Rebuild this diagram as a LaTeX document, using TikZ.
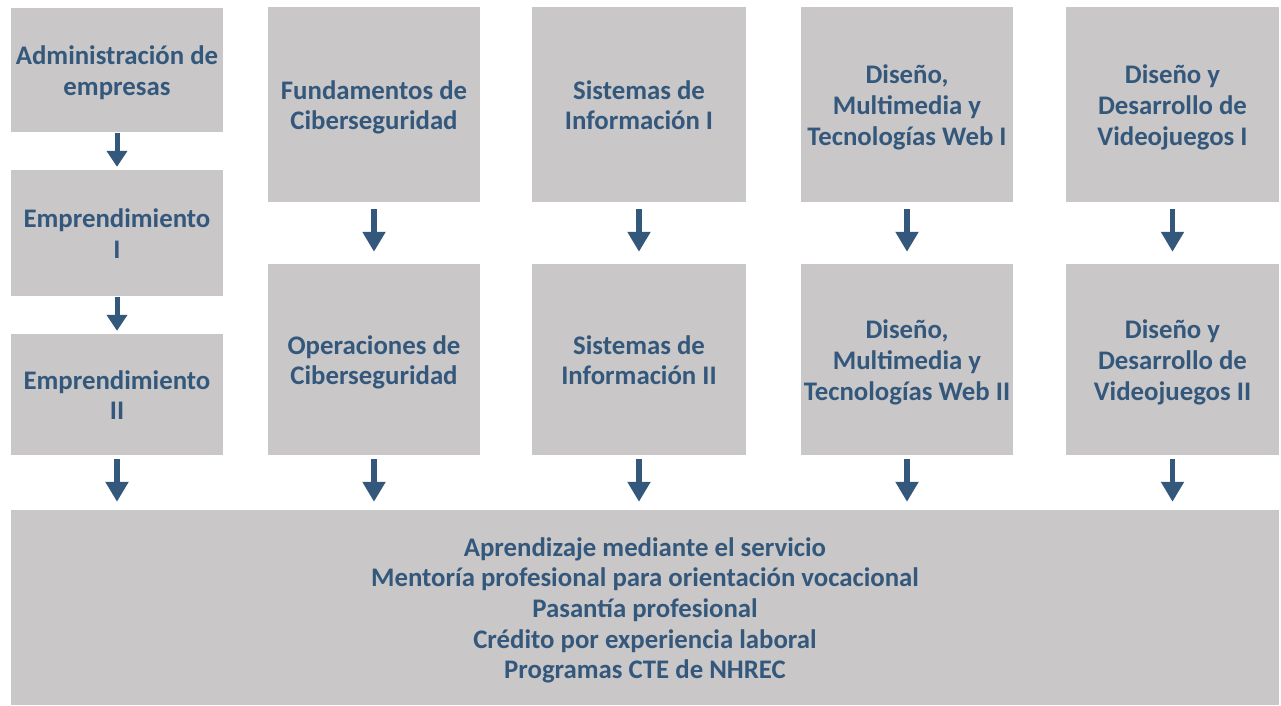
\documentclass[tikz,border=0pt]{standalone}
\usepackage{fontspec}
\setmainfont{Carlito}
\usetikzlibrary{arrows.meta,calc}
\definecolor{boxgray}{HTML}{C9C7C8}
\definecolor{navy}{HTML}{34587C}
\newcommand\tstrut{\rule{0pt}{29pt}}
\tikzset{
  box/.style={rectangle, fill=boxgray, inner sep=0pt, align=center, text=navy,
    font=\fontsize{26.8}{30.6}\selectfont\bfseries},
  arrsmall/.style={draw=navy, line width=5pt, -{Triangle[width=20pt,length=16pt]}},
  arrbig/.style={draw=navy, line width=5.5pt, -{Triangle[width=22pt,length=20pt]}}
}
\begin{document}
\begin{tikzpicture}[x=1pt,y=-1pt]
\useasboundingbox (0,0) rectangle (1281,706);
% column 1
\node[box, minimum width=212pt, minimum height=124pt] (a1) at (117,70) {\tstrut Administración de\\empresas\strut};
\node[box, minimum width=212pt, minimum height=126pt] (a2) at (117,233) {\tstrut Emprendimiento\\I\strut};
\node[box, minimum width=212pt, minimum height=121pt] (a3) at (117,394.5) {\tstrut Emprendimiento\\II\strut};
% top row
\node[box, minimum width=212pt, minimum height=195pt] (b1) at (374,104.5) {\tstrut Fundamentos de\\Ciberseguridad\strut};
\node[box, minimum width=214pt, minimum height=195pt] (c1) at (639,104.5) {\tstrut Sistemas de\\Información I\strut};
\node[box, minimum width=212pt, minimum height=195pt] (d1) at (907,104.5) {\tstrut Diseño,\\Multimedia y\\Tecnologías Web I\strut};
\node[box, minimum width=213pt, minimum height=195pt] (e1) at (1172.5,104.5) {\tstrut Diseño y\\Desarrollo de\\Videojuegos I\strut};
% second row
\node[box, minimum width=212pt, minimum height=191pt] (b2) at (374,359.5) {\tstrut Operaciones de\\Ciberseguridad\strut};
\node[box, minimum width=214pt, minimum height=191pt] (c2) at (639,359.5) {\tstrut Sistemas de\\Información II\strut};
\node[box, minimum width=212pt, minimum height=191pt] (d2) at (907,359.5) {\tstrut Diseño,\\Multimedia y\\Tecnologías Web II\strut};
\node[box, minimum width=213pt, minimum height=191pt] (e2) at (1172.5,359.5) {\tstrut Diseño y\\Desarrollo de\\Videojuegos II\strut};
% bottom
\node[box, minimum width=1268pt, minimum height=195pt] (z) at (645,607.5) {\tstrut Aprendizaje mediante el servicio\\Mentoría profesional para orientación vocacional\\Pasantía profesional\\Crédito por experiencia laboral\\Programas CTE de NHREC\strut};
% arrows
\draw[arrsmall, shorten <=1pt, shorten >=3pt] (a1.south) -- (a2.north);
\draw[arrsmall, shorten <=1pt, shorten >=3pt] (a2.south) -- (a3.north);
\foreach \n in {b,c,d,e} {
  \draw[arrbig, shorten <=7pt, shorten >=12pt] (\n1.south) -- (\n2.north);
}
\foreach \n in {a3,b2,c2,d2,e2} {
  \draw[arrbig, shorten <=4pt, shorten >=8pt] (\n.south) -- (\n.south |- z.north);
}
\end{tikzpicture}
\end{document}
